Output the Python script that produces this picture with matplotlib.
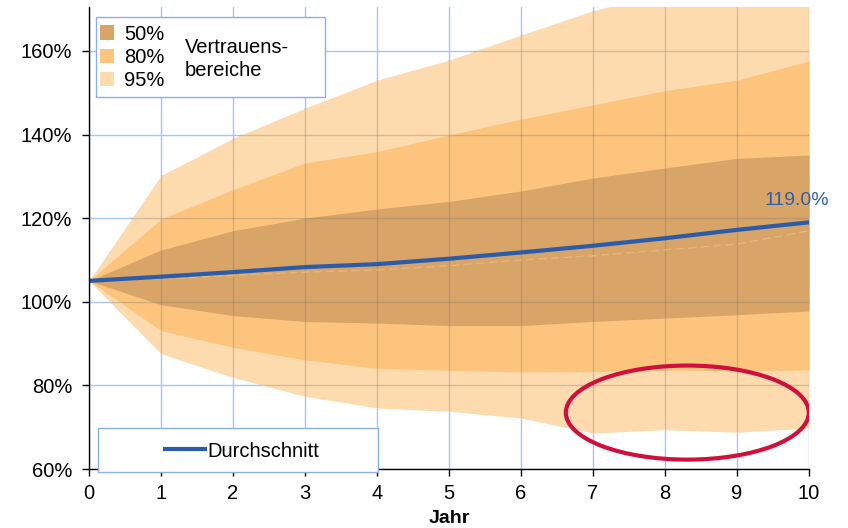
import matplotlib
matplotlib.use("Agg")
import matplotlib.pyplot as plt
from matplotlib.patches import Ellipse, Rectangle, Patch
from matplotlib.lines import Line2D
from matplotlib.ticker import FuncFormatter

plt.rcParams['font.family'] = ['Liberation Sans', 'DejaVu Sans']

# Werte in Prozent
jahre = [0, 1, 2, 3, 4, 5, 6, 7, 8, 9, 10]
mittel = [105.0, 106.0, 107.1, 108.3, 109.0, 110.3, 111.8, 113.4, 115.2, 117.2, 119.0]
median = [105.0, 105.5, 106.3, 107.1, 107.6, 108.6, 110.0, 111.0, 112.4, 113.8, 117.0]
lo50 = [105.0, 99.3, 96.7, 95.3, 94.9, 94.3, 94.3, 95.3, 96.1, 96.9, 97.8]
hi50 = [105.0, 112.4, 117.0, 120.0, 122.2, 124.0, 126.5, 129.6, 132.0, 134.3, 135.1]
lo80 = [105.0, 93.1, 89.1, 86.1, 84.1, 83.6, 83.2, 83.3, 83.6, 83.5, 83.7]
hi80 = [105.0, 119.8, 126.8, 133.2, 135.9, 139.9, 143.7, 147.1, 150.5, 153.0, 157.6]
lo95 = [105.0, 87.6, 81.9, 77.4, 74.6, 73.8, 72.2, 68.6, 69.4, 68.8, 69.8]
hi95 = [105.0, 130.2, 139.1, 146.3, 153.0, 157.8, 163.8, 169.6, 174.0, 178.0, 183.0]

y_ticks = [60, 80, 100, 120, 140, 160]
band_labels = ['50%', '80%', '95%']
band_colors = ['#D8A467', '#FDC47E', '#FDDBAF']
line_color = '#2A5CAA'
grid_color = '#A9C6EE'

fig = plt.figure(figsize=(8.48, 5.28), dpi=100)
ax = fig.add_axes([0.105, 0.1117, 0.849, 0.875])

ax.set_xlim(0, 10)
ax.set_ylim(60, 170.5)
ax.set_xticks(jahre)
ax.set_yticks(y_ticks)
ax.yaxis.set_major_formatter(FuncFormatter(lambda v, p: f"{v:.0f}%"))

ax.set_axisbelow(True)
ax.grid(True, color=grid_color, lw=1)

b95 = ax.fill_between(jahre, lo95, hi95, color=band_colors[2], lw=0, zorder=1)
ax.fill_between(jahre, lo80, hi80, color=band_colors[1], lw=0, zorder=2)
ax.fill_between(jahre, lo50, hi50, color=band_colors[0], lw=0, zorder=3)

# Gitter durch die Baender hindurch (dunkler)
clip = (b95.get_paths()[0], ax.transData)
vl = ax.vlines(jahre, 60, 190, color='#8a7a6a', alpha=0.35, lw=1, zorder=3.5)
hl = ax.hlines(y_ticks, 0, 10, color='#8a7a6a', alpha=0.35, lw=1, zorder=3.5)
vl.set_clip_path(*clip)
hl.set_clip_path(*clip)

ax.plot(jahre, median, color='#E4B77F', lw=1, dashes=(6, 3), zorder=4)
ax.plot(jahre, mittel, color=line_color, lw=3, zorder=5, solid_capstyle='butt')

ax.annotate(f"{mittel[-1]:.1f}%", xy=(jahre[-1], mittel[-1]), xytext=(-12, 22),
            textcoords='offset pixels', ha='center', va='center',
            fontsize=14, color='#2F5FAA', zorder=6, annotation_clip=False)

ax.add_patch(Ellipse((8.31, 73.5), 3.375, 22.5, fill=False, ec='#D0103C', lw=3, zorder=6))

for s in ['top', 'right']:
    ax.spines[s].set_visible(False)
for s in ['left', 'bottom']:
    ax.spines[s].set_color('black')
    ax.spines[s].set_linewidth(1)
    ax.spines[s].set_zorder(6)
ax.tick_params(axis='both', direction='out', length=5, width=1, labelsize=14.5, colors='black')
ax.tick_params(axis='y', pad=7)
ax.tick_params(axis='x', pad=6)

ax.set_xlabel('Jahr', fontsize=14, fontweight='bold', labelpad=5)

# Legende Vertrauensbereiche
ax.add_patch(Rectangle((0.0097, 0.805), 0.318, 0.173, transform=ax.transAxes,
                       fc='white', ec='#8DB0E3', lw=1, zorder=7))
handles = [Patch(color=c, lw=0) for c in band_colors]
leg1 = ax.legend(handles, band_labels, loc='upper left', bbox_to_anchor=(0.0153, 0.962),
                 frameon=False, fontsize=14.5, handlelength=0.7, handleheight=0.7,
                 labelspacing=0.22, handletextpad=0.5, borderpad=0, borderaxespad=0)
leg1.set_zorder(8)
ax.add_artist(leg1)
ax.text(0.133, 0.888, 'Vertrauens-\nbereiche', transform=ax.transAxes, fontsize=14.5,
        ha='left', va='center', linespacing=1.25, zorder=8)

# Legende Durchschnitt
ax.add_patch(Rectangle((0.0125, -0.0065), 0.389, 0.0952, transform=ax.transAxes,
                       fc='white', ec='#8DB0E3', lw=1, zorder=7, clip_on=False))
leg2 = ax.legend([Line2D([], [], color=line_color, lw=3)], ['Durchschnitt'],
                 loc='center left', bbox_to_anchor=(0.1056, 0.039), frameon=False,
                 fontsize=14.5, handlelength=2.0, handletextpad=0.1,
                 borderpad=0, borderaxespad=0)
leg2.set_zorder(8)

fig.savefig('out.png', dpi=100)
